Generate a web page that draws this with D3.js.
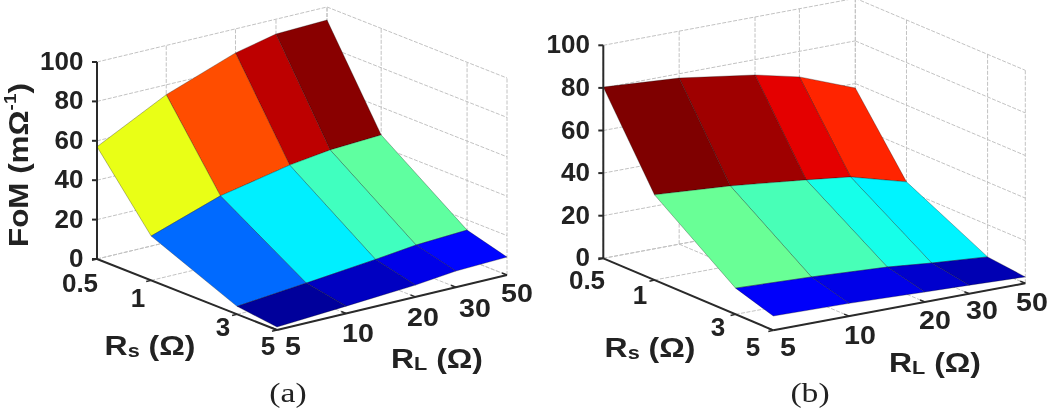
<!DOCTYPE html>
<html><head><meta charset="utf-8">
<script src="https://cdn.jsdelivr.net/npm/d3@7/dist/d3.min.js"></script>
<style>
html,body{margin:0;padding:0;background:#fff;overflow:hidden}
svg{display:block;filter:blur(0.5px)}
text{font-family:"Liberation Sans",Arial,sans-serif;font-weight:700;fill:#222}
</style></head><body>
<svg id="chart" width="1050" height="413"></svg>
<script>
const rsValues = [0.5, 1, 3, 5];
const rlValues = [5, 10, 20, 30, 50];
const zTicks = [0, 20, 40, 60, 80, 100];
// FoM by row (Rs) and column (RL)
const fomA = [
  [57, 75, 87.8, 92.5, 93.4],
  [22.5, 34.5, 41.7, 44.5, 45.9],
  [4, 7.4, 11, 13.4, 14.8],
  [1.5, 3.7, 6, 8.2, 9.1]
];
const fomB = [
  [80.4, 78, 72.8, 68, 57.9],
  [40, 37.5, 33.7, 31.2, 24],
  [12.3, 10.9, 8.9, 6.9, 4.9],
  [6.7, 6, 4.7, 4, 3]
];

const svg = d3.select("#chart");
const rsScale = d3.scaleLog().domain([0.5, 5]).range([0, 1]);
const rlScale = d3.scaleLog().domain([5, 50]).range([0, 1]);
const jet = d3.scaleLinear()
  .domain([0, .125, .375, .625, .875, 1])
  .range(["#00007f", "#0000ff", "#00ffff", "#ffff00", "#ff0000", "#7f0000"]);

const panels = [
  {data: fomA, o: [97, 259], rs: [180, 71], rl: [230, -55], zLen: 197, zRight: 83.5,
   caption: "(a)", capPos: [288, 402], showY: true,
   rsLab: [[80, 283], [138, 298], [223, 327], [268, 346]],
   rlLab: [[293, 346], [358, 333], [423, 317], [475, 308], [517, 293]],
   rsTitle: [150, 345], rlTitle: [437, 358]},
  {data: fomB, o: [603.3, 258.3], rs: [170, 72], rl: [252, -47], zLen: 213, zRight: 590,
   caption: "(b)", capPos: [810, 402], showY: false,
   rsLab: [[587, 280], [640, 295], [718, 327], [753, 347]],
   rlLab: [[788, 347], [860, 335], [935, 320], [982, 310], [1032, 302]],
   rsTitle: [650, 347], rlTitle: [935, 362]}
];

function label(g, x, y, txt, size, anchor, sx) {
  return g.append("text")
    .attr("transform", `translate(${x},${y}) scale(${sx || 1},1)`)
    .attr("text-anchor", anchor || "middle")
    .attr("dominant-baseline", "central")
    .attr("font-size", size).text(txt);
}

panels.forEach(p => {
  const g = svg.append("g");
  const z = d3.scaleLinear().domain([0, 100]).range([0, p.zLen]);
  const P = (rs, rl, v) => {
    const u = rsScale(rs), w = rlScale(rl);
    return [p.o[0] + u * p.rs[0] + w * p.rl[0], p.o[1] + u * p.rs[1] + w * p.rl[1] - z(v)];
  };
  const rsMin = rsValues[0], rsMax = rsValues[rsValues.length - 1];
  const rlMin = rlValues[0], rlMax = rlValues[rlValues.length - 1];
  const line = (a, b, stroke, w, dash) => g.append("line")
    .attr("x1", a[0]).attr("y1", a[1]).attr("x2", b[0]).attr("y2", b[1])
    .attr("stroke", stroke).attr("stroke-width", w).attr("stroke-dasharray", dash || null);
  const GRID = "#c2c2c2", DASH = "4 1.5";

  // walls and floor
  zTicks.forEach(t => {
    line(P(rsMin, rlMin, t), P(rsMin, rlMax, t), GRID, 1, DASH);
    line(P(rsMin, rlMax, t), P(rsMax, rlMax, t), GRID, 1, DASH);
  });
  rlValues.forEach(r => {
    line(P(rsMin, r, 0), P(rsMin, r, 100), GRID, 1, DASH);
    line(P(rsMin, r, 0), P(rsMax, r, 0), GRID, 1, DASH);
  });
  rsValues.forEach(r => {
    line(P(r, rlMax, 0), P(r, rlMax, 100), GRID, 1, DASH);
    line(P(r, rlMin, 0), P(r, rlMax, 0), GRID, 1, DASH);
  });

  // surface: flat shaded, colour from each face's first corner
  const [lo, hi] = d3.extent(p.data.flat());
  const cNorm = d3.scaleLinear().domain([lo, hi]).range([0, 1]);
  const faces = [];
  for (let i = 0; i < rsValues.length - 1; i++)
    for (let j = rlValues.length - 2; j >= 0; j--)
      faces.push({i, j});
  const path = d3.line();
  g.selectAll("path.face").data(faces).join("path")
    .attr("class", "face")
    .attr("d", ({i, j}) => path([
      P(rsValues[i], rlValues[j], p.data[i][j]),
      P(rsValues[i], rlValues[j + 1], p.data[i][j + 1]),
      P(rsValues[i + 1], rlValues[j + 1], p.data[i + 1][j + 1]),
      P(rsValues[i + 1], rlValues[j], p.data[i + 1][j])
    ]) + "Z")
    .attr("fill", ({i, j}) => jet(cNorm(p.data[i][j])))
    .attr("stroke", "#000").attr("stroke-opacity", 0.4).attr("stroke-width", 0.7)
    .attr("stroke-linejoin", "round");

  // axes
  const AX = "#2a2a2a";
  line(P(rsMin, rlMin, 0), P(rsMin, rlMin, 100), AX, 2);
  line(P(rsMin, rlMin, 0), P(rsMax, rlMin, 0), AX, 2);
  line(P(rsMax, rlMin, 0), P(rsMax, rlMax, 0), AX, 2);
  zTicks.forEach(t => {
    const a = P(rsMin, rlMin, t);
    line(a, [a[0] - 5, a[1]], AX, 2);
    label(g, p.zRight, a[1] - 1, t, 26, "end");
  });
  rsValues.forEach((r, i) => {
    const a = P(r, rlMin, 0);
    line(a, [a[0] - 5, a[1] + 1.2], AX, 1.5);
    label(g, p.rsLab[i][0], p.rsLab[i][1], r, 26);
  });
  rlValues.forEach((r, i) => {
    const a = P(rsMax, r, 0);
    line(a, [a[0] - 5, a[1] - 2], AX, 1.5);
    label(g, p.rlLab[i][0], p.rlLab[i][1], r, 26, "middle", 1.1);
  });

  // titles
  const sub = (pos, s) => {
    const t = label(g, pos[0], pos[1], "R", 28, "middle", 1.14);
    t.append("tspan").attr("font-size", 19).attr("dy", 5).text(s);
    t.append("tspan").attr("dy", -5).text(" (Ω)");
  };
  sub(p.rsTitle, "s");
  sub(p.rlTitle, "L");

  if (p.showY) {
    const t = g.append("text")
      .attr("transform", "translate(18,165) rotate(-90) scale(1.12,1)")
      .attr("text-anchor", "middle").attr("dominant-baseline", "central")
      .attr("font-size", 28).text("FoM (mΩ");
    t.append("tspan").attr("font-size", 17).attr("dy", -8).text("-1");
    t.append("tspan").attr("dy", 8).text(")");
  }
  g.append("text").attr("transform", `translate(${p.capPos[0]},${p.capPos[1]}) scale(1.2,1)`)
    .attr("text-anchor", "middle")
    .style("font-family", "'Liberation Serif',serif").style("font-weight", 400)
    .attr("font-size", 28).text(p.caption);
});
</script>
</body></html>
